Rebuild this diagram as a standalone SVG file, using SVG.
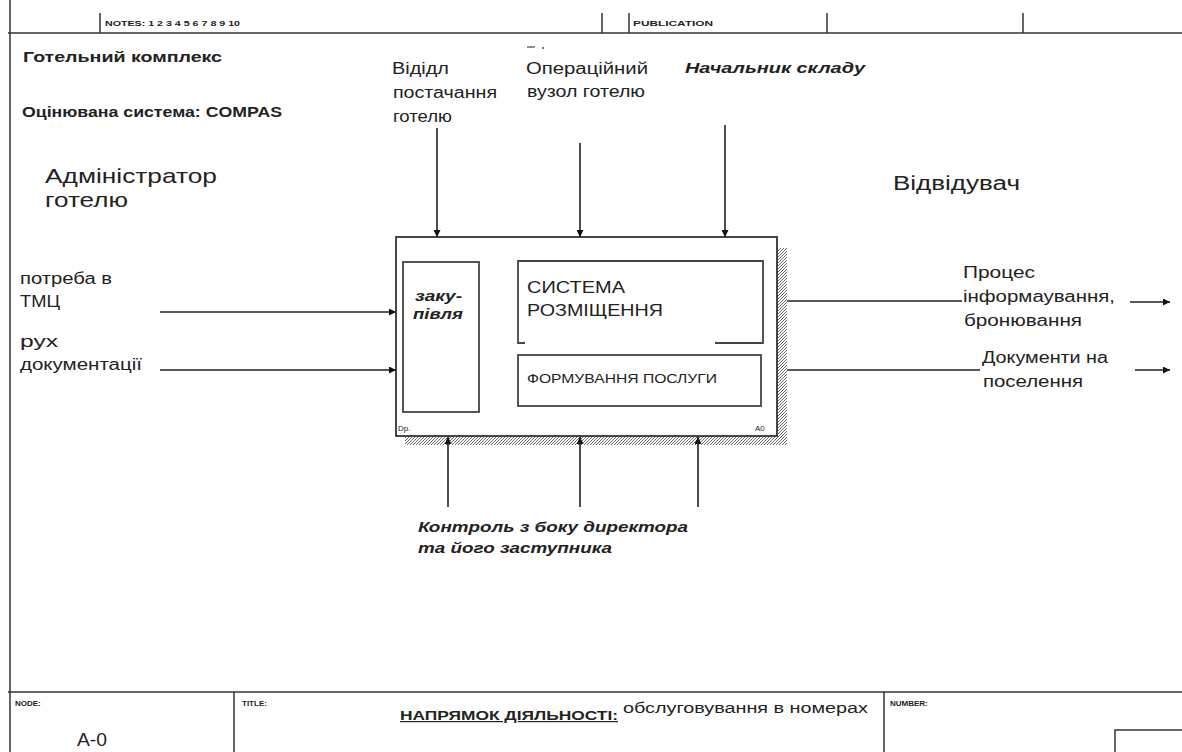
<svg xmlns="http://www.w3.org/2000/svg" width="1182" height="752" viewBox="0 0 1182 752">
<defs>
<style>
text{font-family:"Liberation Sans",Arial,sans-serif;fill:#222}
.b{font-weight:bold}
.bi{font-weight:bold;font-style:italic}
.frame{stroke:#333;stroke-width:1.5;fill:none}
.box{stroke:#333;stroke-width:1.8;fill:#fff}
.ibox{stroke:#444;stroke-width:1.8;fill:none}
.arr{stroke:#222;stroke-width:1.6;fill:none;marker-end:url(#ah)}
.ln{stroke:#222;stroke-width:1.6;fill:none}
.tiny{font-size:8px;font-weight:bold}
</style>
<marker id="ah" viewBox="0 0 10 10" refX="10" refY="5" markerWidth="7" markerHeight="7" markerUnits="userSpaceOnUse" orient="auto">
<path d="M0,0 L10,5 L0,10 z" fill="#111"/>
</marker>
<pattern id="hatch" width="3" height="3" patternUnits="userSpaceOnUse">
<rect width="3" height="3" fill="#fff"/>
<path d="M0,3 L3,0" stroke="#666" stroke-width="1"/>
</pattern>
</defs>
<rect width="1182" height="752" fill="#fff"/>

<g id="frame">
<line class="frame" x1="10" y1="0" x2="10" y2="752"/>
<line class="frame" x1="8" y1="33" x2="1182" y2="33"/>
<line class="frame" x1="100" y1="13" x2="100" y2="33"/>
<line class="frame" x1="602" y1="13" x2="602" y2="33"/>
<line class="frame" x1="629" y1="13" x2="629" y2="33"/>
<line class="frame" x1="827" y1="13" x2="827" y2="33"/>
<line class="frame" x1="1023" y1="13" x2="1023" y2="33"/>
<text x="105" y="26" class="tiny" textLength="135" lengthAdjust="spacingAndGlyphs">NOTES: 1 2 3 4 5 6 7 8 9 10</text>
<text x="633" y="26" class="tiny" textLength="80" lengthAdjust="spacingAndGlyphs">PUBLICATION</text>
<line class="frame" x1="8" y1="692" x2="1182" y2="692"/>
<line class="frame" x1="234" y1="692" x2="234" y2="752"/>
<line class="frame" x1="884" y1="692" x2="884" y2="752"/>
<rect x="1115" y="730" width="80" height="30" class="frame"/>
<text x="15" y="706" class="tiny">NODE:</text>
<text x="77" y="746" font-size="18" textLength="30" lengthAdjust="spacingAndGlyphs">A-0</text>
<text x="242" y="706" class="tiny">TITLE:</text>
<text x="400" y="720" font-size="12" class="b" text-decoration="underline" textLength="218" lengthAdjust="spacingAndGlyphs">НАПРЯМОК ДІЯЛЬНОСТІ:</text>
<text x="623" y="713" font-size="14" textLength="245" lengthAdjust="spacingAndGlyphs">обслуговування в номерах</text>
<text x="890" y="706" class="tiny">NUMBER:</text>
</g>

<g id="headers">
<text x="23" y="62" font-size="14" class="b" textLength="199" lengthAdjust="spacingAndGlyphs">Готельний комплекс</text>
<text x="22" y="117" font-size="14" class="b" textLength="260" lengthAdjust="spacingAndGlyphs">Оцінювана система: COMPAS</text>
<text x="45" y="183" font-size="21" textLength="172" lengthAdjust="spacingAndGlyphs">Адміністратор</text>
<text x="45" y="207" font-size="21" textLength="83" lengthAdjust="spacingAndGlyphs">готелю</text>
<text x="893" y="190" font-size="20" textLength="127" lengthAdjust="spacingAndGlyphs">Відвідувач</text>
</g>

<g id="box-A0">
<rect x="777" y="248" width="10" height="197" fill="url(#hatch)"/>
<rect x="405" y="436" width="382" height="9" fill="url(#hatch)"/>
<rect x="396" y="237" width="381" height="199" class="box"/>
<text x="398" y="431" font-size="8">Dp.</text>
<text x="755" y="431" font-size="8">A0</text>
</g>

<g id="node-zakupivlia">
<rect x="403" y="262" width="76" height="150" class="ibox"/>
<text x="415" y="301" font-size="14" class="bi" textLength="47" lengthAdjust="spacingAndGlyphs">заку-</text>
<text x="413" y="319" font-size="14" class="bi" textLength="50" lengthAdjust="spacingAndGlyphs">півля</text>
</g>

<g id="node-systema">
<path d="M525,343 L518,343 L518,261 L763,261 L763,343 L715,343" class="ibox"/>
<text x="527" y="293" font-size="17" textLength="98" lengthAdjust="spacingAndGlyphs">СИСТЕМА</text>
<text x="527" y="316" font-size="17" textLength="136" lengthAdjust="spacingAndGlyphs">РОЗМІЩЕННЯ</text>
</g>

<g id="node-formuvannia">
<rect x="518" y="355" width="243" height="51" class="ibox"/>
<text x="527" y="383" font-size="12" textLength="190" lengthAdjust="spacingAndGlyphs">ФОРМУВАННЯ ПОСЛУГИ</text>
</g>

<g id="connectors">
<line class="arr" x1="437" y1="128" x2="437" y2="237"/>
<line class="arr" x1="580" y1="143" x2="580" y2="237"/>
<line class="arr" x1="725" y1="125" x2="725" y2="237"/>
<line class="arr" x1="448" y1="507" x2="448" y2="437"/>
<line class="arr" x1="580" y1="507" x2="580" y2="437"/>
<line class="arr" x1="698" y1="507" x2="698" y2="437"/>
<line class="arr" x1="160" y1="312" x2="396" y2="312"/>
<line class="arr" x1="160" y1="370" x2="396" y2="370"/>
<line class="ln" x1="787" y1="301" x2="962" y2="301"/>
<line class="ln" x1="787" y1="370" x2="980" y2="370"/>
<line class="arr" x1="1130" y1="302" x2="1170" y2="302"/>
<line class="arr" x1="1135" y1="370" x2="1170" y2="370"/>
</g>

<g id="labels">
<text x="392" y="74" font-size="16" textLength="57" lengthAdjust="spacingAndGlyphs">Відідл</text>
<text x="393" y="98" font-size="16" textLength="104" lengthAdjust="spacingAndGlyphs">постачання</text>
<text x="393" y="122" font-size="16" textLength="59" lengthAdjust="spacingAndGlyphs">готелю</text>
<text x="526" y="74" font-size="16" textLength="122" lengthAdjust="spacingAndGlyphs">Операційний</text>
<line x1="527" y1="47" x2="535" y2="47" stroke="#444" stroke-width="1.2"/>
<circle cx="543" cy="48" r="1" fill="#444"/>
<text x="527" y="97" font-size="16" textLength="118" lengthAdjust="spacingAndGlyphs">вузол готелю</text>
<text x="685" y="73" font-size="14" class="bi" textLength="180" lengthAdjust="spacingAndGlyphs">Начальник складу</text>
<text x="20" y="284" font-size="16" textLength="92" lengthAdjust="spacingAndGlyphs">потреба в</text>
<text x="20" y="307" font-size="16" textLength="40" lengthAdjust="spacingAndGlyphs">ТМЦ</text>
<text x="20" y="347" font-size="16" textLength="38" lengthAdjust="spacingAndGlyphs">рух</text>
<text x="20" y="370" font-size="16" textLength="122" lengthAdjust="spacingAndGlyphs">документації</text>
<text x="963" y="278" font-size="16" textLength="72" lengthAdjust="spacingAndGlyphs">Процес</text>
<text x="963" y="302" font-size="16" textLength="152" lengthAdjust="spacingAndGlyphs">інформаування,</text>
<text x="964" y="326" font-size="16" textLength="118" lengthAdjust="spacingAndGlyphs">бронювання</text>
<text x="982" y="363" font-size="16" textLength="126" lengthAdjust="spacingAndGlyphs">Документи на</text>
<text x="983" y="387" font-size="16" textLength="100" lengthAdjust="spacingAndGlyphs">поселення</text>
<text x="418" y="532" font-size="14" class="bi" textLength="270" lengthAdjust="spacingAndGlyphs">Контроль з боку директора</text>
<text x="418" y="553" font-size="14" class="bi" textLength="194" lengthAdjust="spacingAndGlyphs">та його заступника</text>
</g>
</svg>
